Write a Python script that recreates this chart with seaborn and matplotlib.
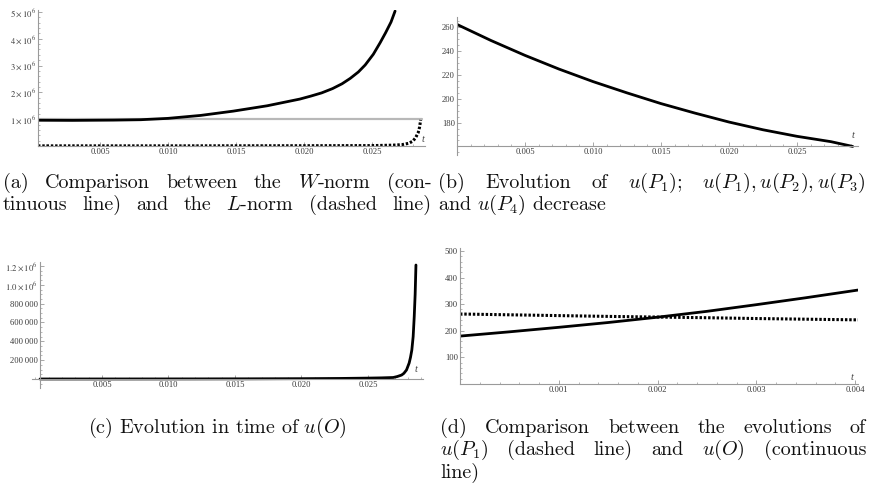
import numpy as np
import pandas as pd
import matplotlib
matplotlib.use("Agg")
import matplotlib.pyplot as plt
import seaborn as sns
from matplotlib.ticker import AutoMinorLocator

# ---------------- data ----------------
# (a) W-norm (continuous), L-norm (dotted) and reference level, in units of 1e6
t_a_w = [0.00044, 0.003, 0.006, 0.008, 0.010, 0.0124, 0.0148, 0.0173, 0.0197, 0.0205, 0.0213,
         0.0221, 0.0228, 0.0234, 0.0240, 0.0245, 0.0251, 0.0256, 0.0260, 0.0264, 0.0267]
w_norm = [0.96, 0.955, 0.965, 0.98, 1.03, 1.14, 1.30, 1.50, 1.75, 1.86, 1.98,
          2.14, 2.32, 2.52, 2.76, 3.02, 3.42, 3.85, 4.22, 4.62, 5.03]
t_a_l = [0.00044, 0.010, 0.020, 0.025, 0.0265, 0.0272, 0.0277, 0.0280, 0.0282, 0.0284, 0.0285, 0.02858]
l_norm = [0.005, 0.005, 0.01, 0.015, 0.03, 0.05, 0.10, 0.18, 0.30, 0.50, 0.70, 0.97]
t_a_ref = [0.00044, 0.0287]
ref_level = [1.0, 1.0]

# (b) u(P1)
t_b = [0.0, 0.0025, 0.005, 0.0075, 0.010, 0.0125, 0.015, 0.0175, 0.020, 0.0225, 0.025, 0.0275, 0.0291]
u_p1_b = [262.5, 249, 236.5, 225, 214.5, 205, 196, 188, 180.5, 174, 168.5, 164, 160]

# (c) u(O)
t_c = [0.00034, 0.004, 0.008, 0.012, 0.016, 0.020, 0.023, 0.025, 0.026, 0.0269, 0.0272, 0.02753,
       0.0277, 0.0279, 0.0281, 0.0282, 0.0283, 0.0284, 0.02848, 0.02855, 0.02861]
u_o_c = [180, 353, 650, 1100, 1900, 3500, 6000, 9500, 12000, 16000, 26000, 42000,
         60000, 96000, 170000, 230000, 308000, 450000, 660000, 900000, 1210000]

# (d) u(P1) dotted vs u(O) continuous
t_d = [0.0, 0.0005, 0.001, 0.0015, 0.002, 0.0025, 0.003, 0.0035, 0.00403]
u_o_d = [180, 196, 213, 231, 251, 273, 298, 324, 353]
u_p1_d = [263, 260, 257, 254, 251.5, 249, 246, 243.5, 241]

# tick labels
xt_abc = [0.005, 0.010, 0.015, 0.020, 0.025]
xl_abc = ["0.005", "0.010", "0.015", "0.020", "0.025"]
yt_a = [1, 2, 3, 4, 5]
yl_a = [r"$1\times10^{6}$", r"$2\times10^{6}$", r"$3\times10^{6}$", r"$4\times10^{6}$", r"$5\times10^{6}$"]
yt_b = [180, 200, 220, 240, 260]
yl_b = ["180", "200", "220", "240", "260"]
yt_c = [200000, 400000, 600000, 800000, 1000000, 1200000]
yl_c = ["200\u2009000", "400\u2009000", "600\u2009000", "800\u2009000",
        r"$1.0\times10^{6}$", r"$1.2\times10^{6}$"]
xt_d = [0.001, 0.002, 0.003, 0.004]
xl_d = ["0.001", "0.002", "0.003", "0.004"]
yt_d = [100, 200, 300, 400, 500]
yl_d = ["100", "200", "300", "400", "500"]

# (words, left px, right px or None, baseline px, centre px or None)
captions = {
    "a": [(["(a)", "Comparison", "between", "the", "$W$-norm", "(con-"], 3, 432, 188, None),
          (["tinuous", "line)", "and", "the", "$L$-norm", "(dashed", "line)"], 3, 431, 210, None)],
    "b": [(["(b)", "Evolution", "of", "$u(P_1)$;", "$u(P_1),u(P_2),u(P_3)$"], 438, 866, 188, None),
          (["and $u(P_4)$ decrease"], 438, None, 210, None)],
    "c": [(["(c) Evolution in time of $u(O)$"], None, None, 433, 217)],
    "d": [(["(d)", "Comparison", "between", "the", "evolutions", "of"], 440, 866, 433, None),
          (["$u(P_1)$", "(dashed", "line)", "and", "$u(O)$", "(continuous"], 440, 866, 455, None),
          (["line)"], 440, None, 478, None)],
}

# ---------------- style ----------------
sns.set_theme(style="white")
plt.rcParams["mathtext.fontset"] = "stix"
plt.rcParams["font.family"] = ["Liberation Serif", "DejaVu Serif"]
plt.rcParams["axes.formatter.use_mathtext"] = True

W, H = 874, 483
fig = plt.figure(figsize=(W / 100, H / 100), dpi=100)
fig.patch.set_facecolor("white")

AX_COL = "#9a9a9a"
LAB_COL = "#3c3c3c"
BLACK = "#000000"
DOT = (0, (0.8, 0.6))


def px_axes(x0, x1, y0, y1):
    return fig.add_axes([x0 / W, 1 - y1 / H, (x1 - x0) / W, (y1 - y0) / H])


def style_axes(ax, nminx=5, nminy=5):
    for s in ["top", "right"]:
        ax.spines[s].set_visible(False)
    for s in ["left", "bottom"]:
        ax.spines[s].set_color(AX_COL)
        ax.spines[s].set_linewidth(0.8)
    ax.set_facecolor("white")
    ax.grid(False)
    ax.xaxis.set_minor_locator(AutoMinorLocator(nminx))
    ax.yaxis.set_minor_locator(AutoMinorLocator(nminy))
    ax.tick_params(which="major", direction="in", length=3, width=0.6, color=AX_COL,
                   labelsize=6.2, labelcolor=LAB_COL, pad=1.5)
    ax.tick_params(which="minor", direction="in", length=1.5, width=0.5, color=AX_COL)
    ax.tick_params(axis="x", bottom=True, which="both")
    ax.tick_params(axis="y", left=True, which="both")
    ax.set_xlabel("")
    ax.set_ylabel("")


def t_label(x, y):
    fig.text(x / W, 1 - y / H, "t", fontsize=7.5, style="italic", color="#444444",
             ha="center", va="center", family=["Liberation Serif"])


# ---------- (a) ----------
ax = px_axes(38, 425, 10, 146)
sns.lineplot(x=t_a_ref, y=ref_level, ax=ax, color="#b8b8b8", linewidth=1.6)
sns.lineplot(x=t_a_w, y=w_norm, ax=ax, color=BLACK, linewidth=2.0)
sns.lineplot(x=t_a_l, y=l_norm, ax=ax, color=BLACK, linewidth=2.2, linestyle=DOT)
ax.set_xlim(0.00044, 0.0289)
ax.set_ylim(0, 5.07)
ax.set_xticks(xt_abc, xl_abc)
ax.set_yticks(yt_a, yl_a)
style_axes(ax)
t_label(423, 140)

# ---------- (b) ----------
ax = px_axes(457, 858, 16.7, 155)
sns.lineplot(x=t_b, y=u_p1_b, ax=ax, color=BLACK, linewidth=2.0)
ax.set_xlim(0, 0.02949)
ax.set_ylim(152.8, 269.0)
ax.spines["bottom"].set_position(("data", 160.3))
ax.set_xticks(xt_abc, xl_abc)
ax.set_yticks(yt_b, yl_b)
style_axes(ax, 5, 4)
t_label(853, 136)

# ---------- (c) ----------
ax = px_axes(32, 423, 262, 388)
sns.lineplot(x=t_c, y=u_o_c, ax=ax, color=BLACK, linewidth=2.0)
ax.set_xlim(-0.000263, 0.02914)
ax.set_ylim(-95500, 1.242e6)
ax.spines["bottom"].set_position(("data", 0))
ax.spines["left"].set_position(("data", 0.000338))
ax.set_xticks(xt_abc, xl_abc)
ax.set_yticks(yt_c, yl_c)
style_axes(ax, 5, 4)
t_label(416, 370)

# ---------- (d) ----------
ax = px_axes(460, 858, 248, 384)
sns.lineplot(x=t_d, y=u_p1_d, ax=ax, color=BLACK, linewidth=2.2, linestyle=DOT)
sns.lineplot(x=t_d, y=u_o_d, ax=ax, color=BLACK, linewidth=2.0)
ax.set_xlim(0, 0.00403)
ax.set_ylim(0, 511)
ax.set_xticks(xt_d, xl_d)
ax.set_yticks(yt_d, yl_d)
style_axes(ax, 5, 5)
t_label(852, 377)

# ---------- captions (justified like the LaTeX source) ----------
CAP_KW = dict(fontsize=14.5, color="#111111", family=["cmr10"], math_fontfamily="cm",
              va="baseline", ha="left")
fig.canvas.draw()
renderer = fig.canvas.get_renderer()
for key, lines in captions.items():
    for words, x0, x1, yb, xc in lines:
        texts = [fig.text(0, 1 - yb / H, w, **CAP_KW) for w in words]
        widths = [t.get_window_extent(renderer).width for t in texts]
        if xc is not None:
            x0 = xc - sum(widths) / 2
        if x1 is None or len(words) == 1:
            gap = 0
        else:
            gap = (x1 - x0 - sum(widths)) / (len(words) - 1)
        x = x0
        for t, wd in zip(texts, widths):
            t.set_x(x / W)
            x += wd + gap

fig.savefig("out.png", dpi=100, facecolor="white")
